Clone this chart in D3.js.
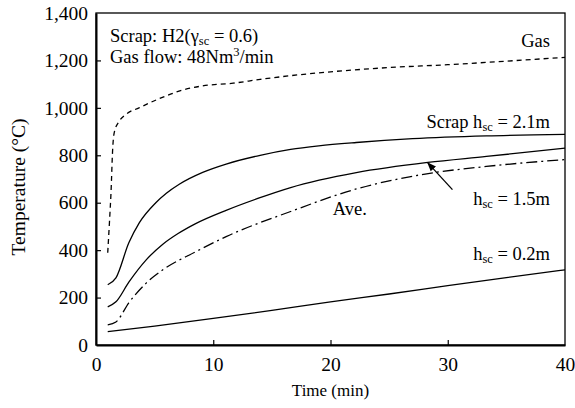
<!DOCTYPE html>
<html>
<head>
<meta charset="utf-8">
<script src="https://cdn.jsdelivr.net/npm/d3@7"></script>
<style>
  body { margin: 0; background: #fff; }
  text { font-family: "Liberation Serif", "Times New Roman", serif; fill: #000; }
</style>
</head>
<body>
<div id="chart"></div>
<script>
// data (time in min, temperature in °C)
const xTicks = [0, 10, 20, 30, 40];
const yTicks = [0, 200, 400, 600, 800, 1000, 1200, 1400];

const gas = [[1.0, 389], [1.15, 520], [1.28, 643], [1.42, 825], [1.56, 897], [2.0, 945], [2.56, 973],
  [3.67, 1000], [5.26, 1036], [7.4, 1075], [9, 1092], [11.7, 1104], [14, 1120], [17.4, 1140],
  [20, 1152], [25, 1170], [30, 1182], [35, 1197], [40, 1213]];
const scrap21 = [[1.0, 254], [1.7, 283], [2.8, 431], [3.7, 516], [5.1, 600], [6, 640], [7.1, 678],
  [9.1, 728], [11.1, 763], [14, 800], [16.6, 825], [19, 840], [22.2, 854], [27, 870], [33.3, 882], [40, 888]];
const scrap15 = [[1.0, 161], [1.7, 182], [2.8, 265], [4.3, 360], [5.7, 425], [7.0, 470], [8.5, 512],
  [11.1, 568], [13.8, 618], [16.6, 664], [22.2, 727], [28.3, 770], [33.3, 795], [40, 830]];
const average = [[1.0, 85], [1.7, 97], [2.8, 178], [4.3, 262], [5.7, 317], [8.5, 393], [11.1, 457],
  [16.6, 563], [22.2, 658], [28.2, 722], [33.3, 753], [40, 782]];
const scrap02 = [[1.0, 56], [5, 80], [10, 112], [15, 146], [20, 182], [25, 215], [30, 250],
  [35, 284], [40, 317]];

const W = 575, H = 408;
const margin = { left: 96, right: 10, top: 13, bottom: 63 };
const iw = W - margin.left - margin.right;
const ih = H - margin.top - margin.bottom;

const svg = d3.select("#chart").append("svg")
  .attr("width", W).attr("height", H);
const g = svg.append("g").attr("transform", `translate(${margin.left},${margin.top})`);

const x = d3.scaleLinear().domain([0, 40]).range([0, iw]);
const y = d3.scaleLinear().domain([0, 1400]).range([ih, 0]);

// frame
g.append("rect").attr("width", iw).attr("height", ih)
  .attr("fill", "none").attr("stroke", "#000").attr("stroke-width", 1.3);

const xAxis = g.append("g").attr("transform", `translate(0,${ih})`)
  .call(d3.axisBottom(x).tickValues(xTicks).tickSize(-5).tickPadding(12).tickSizeOuter(0));
const yAxis = g.append("g")
  .call(d3.axisLeft(y).tickValues(yTicks).tickSize(-5).tickPadding(8).tickSizeOuter(0)
    .tickFormat(d3.format(",")));
[xAxis, yAxis].forEach(a => {
  a.select(".domain").attr("stroke-width", 2);
  a.selectAll(".tick line").attr("stroke-width", 1.2);
  a.selectAll(".tick text").style("font-family", "Liberation Serif, serif").style("font-size", "19.5px");
});
xAxis.selectAll(".tick").filter(d => d === 0 || d === 40).select("line").remove();
yAxis.selectAll(".tick").filter(d => d === 0 || d === 1400).select("line").remove();

const line = d3.line().x(d => x(d[0])).y(d => y(d[1])).curve(d3.curveMonotoneX);

const series = [
  { data: gas, dash: "5,4" },
  { data: scrap21, dash: null },
  { data: scrap15, dash: null },
  { data: average, dash: "11,4,2,4" },
  { data: scrap02, dash: null }
];
g.selectAll("path.series").data(series).join("path")
  .attr("class", "series")
  .attr("d", d => line(d.data))
  .attr("fill", "none").attr("stroke", "#000").attr("stroke-width", 1.3)
  .attr("stroke-dasharray", d => d.dash);

// arrow pointing to the 1.5 m curve
svg.append("defs").append("marker")
  .attr("id", "ah").attr("viewBox", "0 0 10 10").attr("refX", 9).attr("refY", 5)
  .attr("markerWidth", 7).attr("markerHeight", 7).attr("orient", "auto")
  .append("path").attr("d", "M0,1L10,5L0,9Z").attr("fill", "#000");
g.append("line")
  .attr("x1", x(30.4)).attr("y1", y(655))
  .attr("x2", x(28.3)).attr("y2", y(768))
  .attr("stroke", "#000").attr("stroke-width", 1.3)
  .attr("marker-end", "url(#ah)");

// annotations
const fs = 18.5;
function label(tx, ty, parts, anchor) {
  const t = g.append("text").attr("x", tx).attr("y", ty)
    .attr("text-anchor", anchor || "start").style("font-size", fs + "px");
  parts.forEach(p => {
    const s = t.append("tspan").text(p.t);
    if (p.sub) s.style("font-size", "12.5px").attr("dy", 3);
    if (p.sup) s.style("font-size", "12.5px").attr("dy", -7);
    if (p.back) s.attr("dy", p.back);
  });
  return t;
}
label(14, 29, [{ t: "Scrap: H2(" }, { t: "γ" }, { t: "sc", sub: true }, { t: " = 0.6)", back: -3 }]);
label(14, 50, [{ t: "Gas flow: 48Nm" }, { t: "3", sup: true }, { t: "/min", back: 7 }]);
label(iw - 15, 34, [{ t: "Gas" }], "end");
label(iw - 15, 115, [{ t: "Scrap h" }, { t: "sc", sub: true }, { t: " = 2.1m", back: -3 }], "end");
label(iw - 15, 192, [{ t: "h" }, { t: "sc", sub: true }, { t: " = 1.5m", back: -3 }], "end");
label(x(20.2), 202, [{ t: "Ave." }]);
label(iw - 15, 247, [{ t: "h" }, { t: "sc", sub: true }, { t: " = 0.2m", back: -3 }], "end");

svg.append("text")
  .attr("transform", `translate(25,${margin.top + ih / 2 + 8}) rotate(-90)`)
  .attr("text-anchor", "middle").style("font-size", "19.5px")
  .text("Temperature (°C)");
svg.append("text")
  .attr("x", margin.left + iw / 2).attr("y", 396)
  .attr("text-anchor", "middle").style("font-size", "17px")
  .text("Time (min)");
</script>
</body>
</html>
